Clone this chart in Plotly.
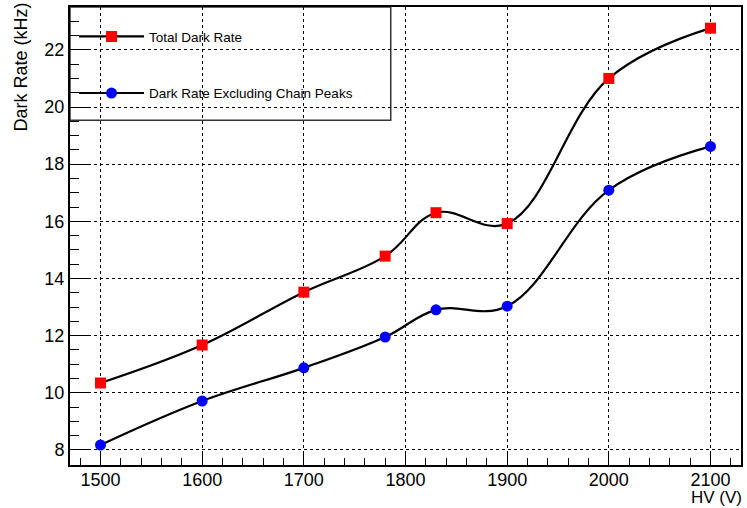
import plotly.graph_objects as go

hv = [1500, 1600, 1700, 1780, 1830, 1900, 2000, 2100]
total_rate = [10.34, 11.67, 13.52, 14.78, 16.30, 15.92, 21.0, 22.76]
excl_rate = [8.17, 9.71, 10.87, 11.95, 12.90, 13.03, 17.09, 18.62]

FONT = "Liberation Sans, Arial, sans-serif"

fig = go.Figure()
fig.add_trace(go.Scatter(
    x=hv, y=total_rate, mode="lines+markers", name="Total Dark Rate",
    line=dict(color="black", width=2.2, shape="spline", smoothing=1.1),
    marker=dict(symbol="square", size=11, color="#ff0000"),
    legendgroup="a",
))
fig.add_trace(go.Scatter(
    x=hv, y=excl_rate, mode="lines+markers", name="Dark Rate Excluding Chain Peaks",
    line=dict(color="black", width=2.2, shape="spline", smoothing=1.1),
    marker=dict(symbol="circle", size=11, color="#0000ff"),
    legendgroup="b",
))

fig.update_layout(
    width=747, height=508,
    margin=dict(l=70, r=4, t=7, b=43),
    paper_bgcolor="white", plot_bgcolor="white",
    font=dict(family=FONT, color="black"),
    showlegend=True,
    legend=dict(
        x=0.006, y=0.969, xanchor="left", yanchor="top",
        bgcolor="rgba(0,0,0,0)", borderwidth=0,
        font=dict(size=13.5, family=FONT),
        tracegroupgap=36, itemwidth=65,
    ),
    shapes=[dict(type="rect", xref="paper", yref="paper",
                 x0=0, x1=0.478, y0=0.753, y1=1,
                 fillcolor="white", line=dict(color="#333333", width=1.5),
                 layer="between")],
)

fig.update_xaxes(
    range=[1470, 2130],
    tickmode="array", tickvals=[1500, 1600, 1700, 1800, 1900, 2000, 2100],
    ticks="inside", ticklen=13, tickwidth=1, tickcolor="black",
    minor=dict(ticks="inside", dtick=20, tick0=1500, ticklen=7, tickcolor="black", showgrid=False),
    showgrid=True, gridcolor="black", griddash="dot", gridwidth=1,
    showline=True, linecolor="black", linewidth=2, mirror=True,
    tickfont=dict(size=18, family=FONT), zeroline=False,
    ticklabelstandoff=-3,
)
fig.update_yaxes(
    range=[7.47, 23.5],
    tickmode="array", tickvals=[8, 10, 12, 14, 16, 18, 20, 22],
    ticks="inside", ticklen=18, tickwidth=1, tickcolor="black",
    minor=dict(ticks="inside", dtick=0.5, tick0=8, ticklen=9, tickcolor="black", showgrid=False),
    showgrid=True, gridcolor="black", griddash="dot", gridwidth=1,
    showline=True, linecolor="black", linewidth=2, mirror=True,
    tickfont=dict(size=18, family=FONT), zeroline=False,
)

fig.add_annotation(text="HV (V)", xref="paper", yref="paper", x=1, y=0,
                   xanchor="right", yanchor="bottom", yshift=-43, xshift=2,
                   borderpad=0,
                   showarrow=False, font=dict(size=17, family=FONT))
fig.add_annotation(text="Dark Rate (kHz)", xref="paper", yref="paper", x=0, y=1,
                   xanchor="center", yanchor="top", xshift=-50, yshift=6, textangle=-90,
                   showarrow=False, font=dict(size=18, family=FONT))

fig.write_html("out.html")
